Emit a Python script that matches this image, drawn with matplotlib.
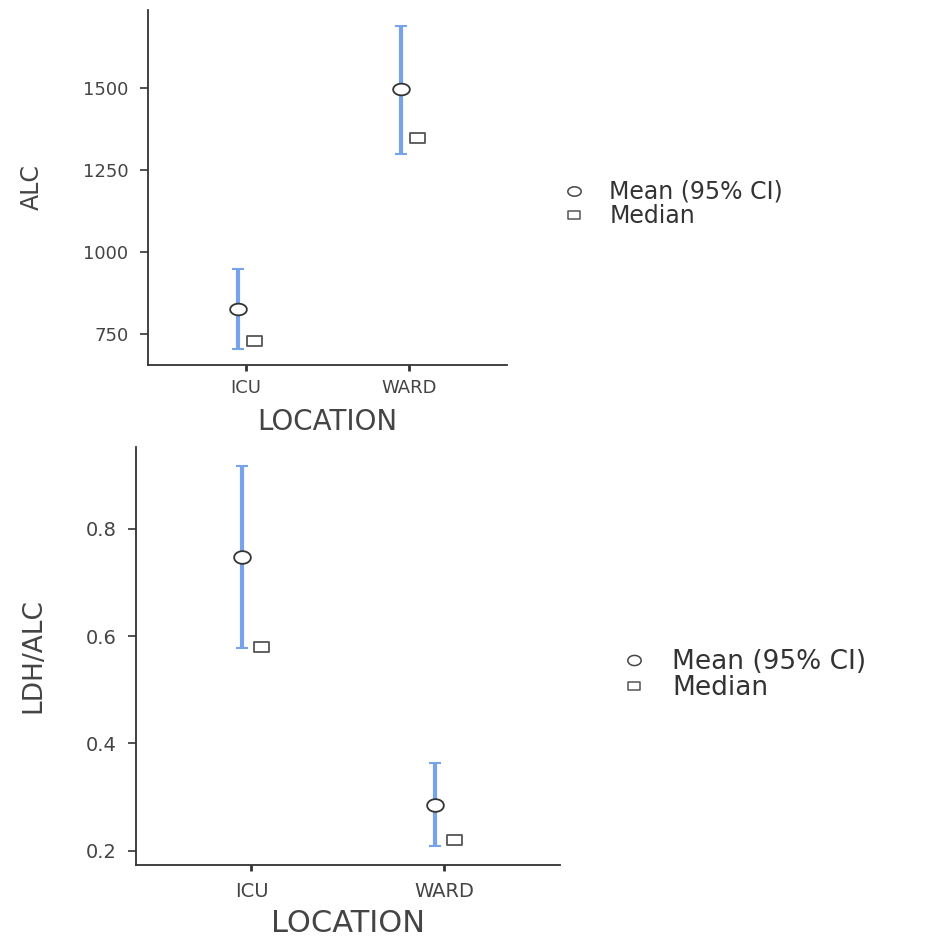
import numpy as np
import matplotlib
matplotlib.use("Agg")
from matplotlib import pyplot as plt
from matplotlib.path import Path
from matplotlib.lines import Line2D

plt.rcParams['font.family'] = ['DejaVu Sans']

locations = ["ICU", "WARD"]

alc_mean = [825, 1496]
alc_ci_low = [703, 1299]
alc_ci_high = [947, 1690]
alc_median = [727, 1348]

ratio_mean = [0.748, 0.285]
ratio_ci_low = [0.577, 0.208]
ratio_ci_high = [0.918, 0.363]
ratio_median = [0.580, 0.220]


def flat_marker(kind, ratio):
    # the picture is stretched sideways, so markers are wider than tall
    if kind == "o":
        t = np.linspace(0, 2 * np.pi, 60)
        verts = np.column_stack([np.cos(t), ratio * np.sin(t)])
    else:
        verts = np.array([[-1, -ratio], [1, -ratio], [1, ratio], [-1, ratio], [-1, -ratio]])
    return Path(verts, closed=True)


def draw_panel(ax, mean, lo, hi, med, ylabel, ylim, yticks, fs, msize, ratio, pads):
    x = np.arange(1, len(locations) + 1)
    mean = np.array(mean)
    err = [mean - np.array(lo), np.array(hi) - mean]
    ax.errorbar(x - 0.05, mean, yerr=err, fmt="none", ecolor="#77a3ea",
                elinewidth=3, capsize=4, capthick=1.5, zorder=2)
    circ = flat_marker("o", ratio)
    sq = flat_marker("s", ratio * 0.9)
    ax.plot(x - 0.05, mean, linestyle="none", marker=circ, markersize=msize,
            markerfacecolor="white", markeredgecolor="#333333", markeredgewidth=1.3, zorder=3)
    ax.plot(x + 0.05, med, linestyle="none", marker=sq, markersize=msize * 0.9,
            markerfacecolor="white", markeredgecolor="#555555", markeredgewidth=1.3, zorder=3)
    ax.set_xlim(0.4, 2.6)
    ax.set_ylim(*ylim)
    ax.set_xticks(x)
    ax.set_xticklabels(locations)
    ax.set_yticks(yticks)
    for s in ["top", "right"]:
        ax.spines[s].set_visible(False)
    for s in ["left", "bottom"]:
        ax.spines[s].set_color("#333333")
        ax.spines[s].set_linewidth(1.3)
    ax.tick_params(axis="y", length=6, width=1.2, color="#333333", labelcolor="#444444",
                   labelsize=fs["tick"], pad=8)
    ax.tick_params(axis="x", length=4, width=2, color="#333333", labelcolor="#444444",
                   labelsize=fs["tick"], pad=pads[0])
    ax.set_xlabel("LOCATION", fontsize=fs["xlabel"], color="#444444", labelpad=pads[1])
    ax.set_ylabel(ylabel, fontsize=fs["ylabel"], color="#444444", labelpad=pads[2])
    handles = [
        Line2D([], [], linestyle="none", marker=circ, markersize=msize * 0.8,
               markerfacecolor="white", markeredgecolor="#444444", markeredgewidth=1.1),
        Line2D([], [], linestyle="none", marker=sq, markersize=msize * 0.8 * 0.9,
               markerfacecolor="white", markeredgecolor="#555555", markeredgewidth=1.1),
    ]
    return handles


fig = plt.figure(figsize=(9.38, 9.40), dpi=100)

ax1 = fig.add_axes([0.1578, 0.6117, 0.3827, 0.3777])
h1 = draw_panel(ax1, alc_mean, alc_ci_low, alc_ci_high, alc_median, "ALC",
                (655, 1738), [750, 1000, 1250, 1500],
                {"tick": 13, "xlabel": 20, "ylabel": 17}, 12, 0.7, (6, 8, 28))
fig.legend(h1, ["Mean (95% CI)", "Median"], loc="center left",
           bbox_to_anchor=(562 / 938, 1 - 204 / 940), frameon=False, fontsize=17,
           handlelength=1.0, handletextpad=1.0, labelspacing=0, borderpad=0,
           borderaxespad=0, labelcolor="#333333")

ax2 = fig.add_axes([0.1447, 0.0798, 0.4525, 0.4447])
h2 = draw_panel(ax2, ratio_mean, ratio_ci_low, ratio_ci_high, ratio_median, "LDH/ALC",
                (0.173, 0.953), [0.2, 0.4, 0.6, 0.8],
                {"tick": 14, "xlabel": 22, "ylabel": 19}, 12, 0.76, (8, 6, 28))
fig.legend(h2, ["Mean (95% CI)", "Median"], loc="center left",
           bbox_to_anchor=(621 / 938, 1 - 675 / 940), frameon=False, fontsize=19,
           handlelength=1.0, handletextpad=0.95, labelspacing=0, borderpad=0,
           borderaxespad=0, labelcolor="#333333")

fig.savefig("out.png", dpi=100)
